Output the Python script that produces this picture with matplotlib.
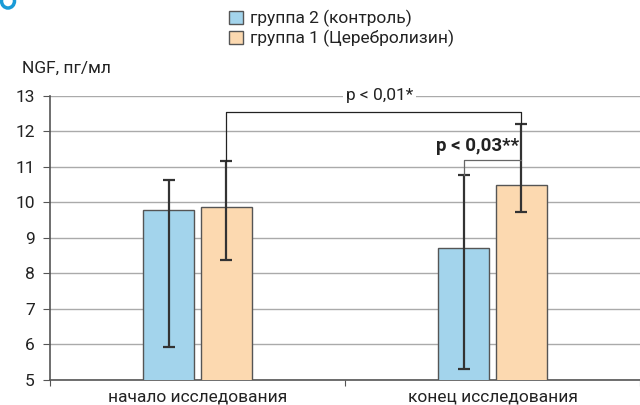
import matplotlib
matplotlib.use("Agg")
import matplotlib.pyplot as plt
from matplotlib.patches import Ellipse
import numpy as np

plt.rcParams['font.family'] = ['Roboto', 'DejaVu Sans']

categories = ["начало исследования", "конец исследования"]
series_names = ["группа 2 (контроль)", "группа 1 (Церебролизин)"]
control_vals = [9.8, 8.72]
control_err_low = [5.92, 5.31]
control_err_high = [10.62, 10.78]
cereb_vals = [9.87, 10.49]
cereb_err_low = [8.37, 9.72]
cereb_err_high = [11.17, 12.2]
yticks = [5, 6, 7, 8, 9, 10, 11, 12, 13]

blue = '#a3d4ec'
orange = '#fcd9b0'
edge = '#555555'
errc = '#333333'

fig = plt.figure(figsize=(6.4, 4.05), dpi=100)
ax = fig.add_axes([50/640, 1-380/405, 1-50/640, (380-96)/405])

x = np.arange(len(categories))
w = 0.175
off = 0.098
xb = x - off
xo = x + off
ax.bar(xb, control_vals, w, color=blue, edgecolor=edge, linewidth=1.0, zorder=3, label=series_names[0])
ax.bar(xo, cereb_vals, w, color=orange, edgecolor=edge, linewidth=1.0, zorder=3, label=series_names[1])

cv = np.array(control_vals); ov = np.array(cereb_vals)
ax.errorbar(xb, cv, yerr=[cv-np.array(control_err_low), np.array(control_err_high)-cv],
            fmt='none', ecolor=errc, elinewidth=1.6, capsize=4, capthick=1.6, zorder=4)
ax.errorbar(xo, ov, yerr=[ov-np.array(cereb_err_low), np.array(cereb_err_high)-ov],
            fmt='none', ecolor=errc, elinewidth=1.6, capsize=4, capthick=1.6, zorder=4)

# brackets
b1 = 12.54
ax.plot([xo[0], xo[0], xo[1], xo[1]], [cereb_err_high[0], b1, b1, cereb_err_high[1]],
        color='#222222', lw=0.9, zorder=5)
b2 = 11.19
ax.plot([xb[1], xb[1], xo[1]], [control_err_high[1], b2, b2],
        color='#666666', lw=0.9, zorder=5)

ax.text(0.617, 13, "p < 0,01*", ha='center', va='center', fontsize=12.5, color='#222222',
        bbox=dict(facecolor='white', edgecolor='none', pad=2), zorder=6)
ax.text(1.09, 11.6, "p < 0,03**", ha='right', va='center', fontsize=13.5,
        fontweight='bold', color='#222222', zorder=6)

ax.set_ylim(5, 13)
ax.set_yticks(yticks)
ax.set_yticklabels([str(t) for t in yticks], fontsize=12.5, color='#222222')
ax.yaxis.grid(True, color='#aaaaaa', lw=1.0, zorder=0)
ax.set_axisbelow(True)

ax.set_xlim(-0.5, 1.467)
ax.set_xticks([-0.5, 0.5, 1.5], minor=False)
ax.set_xticklabels([])
ax.set_xticks(x, minor=True)
ax.set_xticklabels(categories, minor=True, fontsize=12.5, color='#222222')
ax.tick_params(axis='x', which='minor', length=0, pad=7)
ax.tick_params(axis='x', which='major', length=4, color='#555555', direction='out')
ax.tick_params(axis='y', length=5, color='#555555', pad=6)

for s in ['top', 'right']:
    ax.spines[s].set_visible(False)
ax.spines['left'].set_color('#555555')
ax.spines['bottom'].set_color('#555555')
ax.spines['left'].set_linewidth(1.2)
ax.spines['bottom'].set_linewidth(1.2)

fig.text(22/640, 1-68/405, "NGF, пг/мл", fontsize=12.5, ha='left', va='center', color='#222222')

leg = fig.legend(loc='upper left', bbox_to_anchor=(229/640, 1-10/405), frameon=False,
                 fontsize=12.5, handlelength=0.8, handleheight=0.8, handletextpad=0.4,
                 labelspacing=0.15, borderaxespad=0, borderpad=0)
for t in leg.get_texts():
    t.set_color('#222222')

# cropped blue ring fragment at the top-left corner
fig.patches.append(Ellipse((8/640, 1-1/405), 13/640, 14/405, transform=fig.transFigure,
                           facecolor='none', edgecolor='#1a9bd7', lw=2.5))

fig.savefig("out.png", dpi=100)
